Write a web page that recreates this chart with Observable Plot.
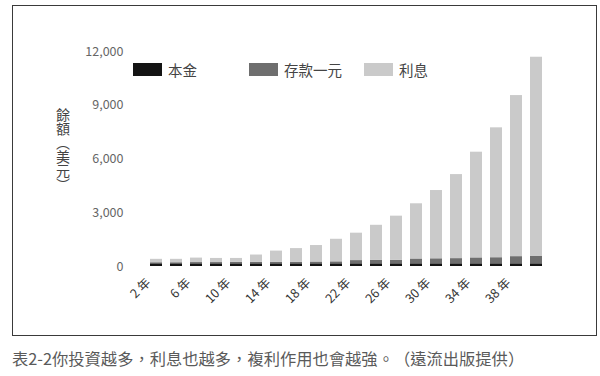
<!DOCTYPE html>
<html>
<head>
<meta charset="utf-8">
<script src="https://cdn.jsdelivr.net/npm/d3@7"></script>
<script src="https://cdn.jsdelivr.net/npm/@observablehq/plot@0.6"></script>
<style>
  html, body { margin: 0; padding: 0; background: #fff; }
  body { width: 600px; height: 376px; position: relative; overflow: hidden;
         font-family: "Noto Sans CJK TC", "Noto Sans", sans-serif; text-spacing-trim: space-all; }
  #frame { position: absolute; left: 12px; top: 5px; width: 585px; height: 331px;
           box-sizing: border-box; border: 1.5px solid #3a3a3a; }
  #chart { position: absolute; left: 0; top: 0; }
  .lg { position: absolute; top: 61px; height: 16px; display: flex; align-items: center;
        font-size: 14.5px; color: #444; }
  .sw { width: 29px; height: 13px; margin-right: 6px; }
  #ylab { position: absolute; left: 53px; top: 108px; writing-mode: vertical-rl;
          font-size: 14px; color: #444; text-spacing-trim: space-all; }
  #cap { position: absolute; left: 12px; top: 348px; font-size: 16.3px; color: #5a5a5a;
         line-height: 20px; white-space: nowrap; text-spacing-trim: space-all; }
</style>
</head>
<body>
<div id="frame"></div>
<div id="chart"></div>
<div id="legend"></div>
<div id="ylab">餘額（美元）</div>
<div id="cap">表2-2你投資越多，利息也越多，複利作用也會越強。（遠流出版提供）</div>
<script>
// Categories (years)
const years = [2,4,6,8,10,12,14,16,18,20,22,24,26,28,30,32,34,36,38,40];
const tickYears = [2,6,10,14,18,22,26,30,34,38];
// Series
const seriesNames = ["本金", "存款一元", "利息"];
const seriesColors = ["#141414", "#6e6e6e", "#cacaca"];
const principal = [150,150,150,150,150,150,150,150,150,150,150,150,150,150,150,150,150,150,150,150];
const deposit   = [60,60,70,70,80,80,90,90,100,110,180,190,200,270,280,290,330,340,400,410];
const interest  = [190,190,250,230,220,410,620,760,920,1260,1530,1960,2460,3080,3810,4690,5900,7250,8990,11120];
const yTicks = [0,3000,6000,9000,12000];

const seriesValues = [principal, deposit, interest];
const rows = [];
years.forEach((yr, i) => {
  seriesNames.forEach((s, j) => rows.push({year: yr, series: s, value: seriesValues[j][i]}));
});

const chart = Plot.plot({
  width: 600,
  height: 340,
  marginLeft: 135,
  marginRight: 43,
  marginTop: 51,
  marginBottom: 74,
  style: {background: "transparent", fontFamily: "'Noto Sans CJK TC', 'Noto Sans', sans-serif", color: "#444"},
  x: {type: "band", domain: years, padding: 0.42},
  y: {domain: [0, 12000]},
  color: {domain: seriesNames, range: seriesColors},
  marks: [
    Plot.barY(rows, {x: "year", y: "value", fill: "series", order: null}),
    Plot.axisX({ticks: tickYears, tickFormat: d => d + " 年", tickRotate: -45, tickSize: 0,
                tickPadding: 14, dx: -8, fontSize: 12.5, label: null, fill: "#333"}),
    Plot.axisY({ticks: yTicks, tickFormat: d3.format(","), tickSize: 0, tickPadding: 12,
                fontSize: 12.5, label: null, fill: "#666"})
  ]
});
document.getElementById("chart").appendChild(chart);

// Legend (HTML)
const legendX = [133, 249, 364];
const legend = document.getElementById("legend");
seriesNames.forEach((s, j) => {
  const item = document.createElement("div");
  item.className = "lg";
  item.style.left = legendX[j] + "px";
  const sw = document.createElement("div");
  sw.className = "sw";
  sw.style.background = seriesColors[j];
  item.appendChild(sw);
  item.appendChild(document.createTextNode(s));
  legend.appendChild(item);
});
</script>
</body>
</html>
